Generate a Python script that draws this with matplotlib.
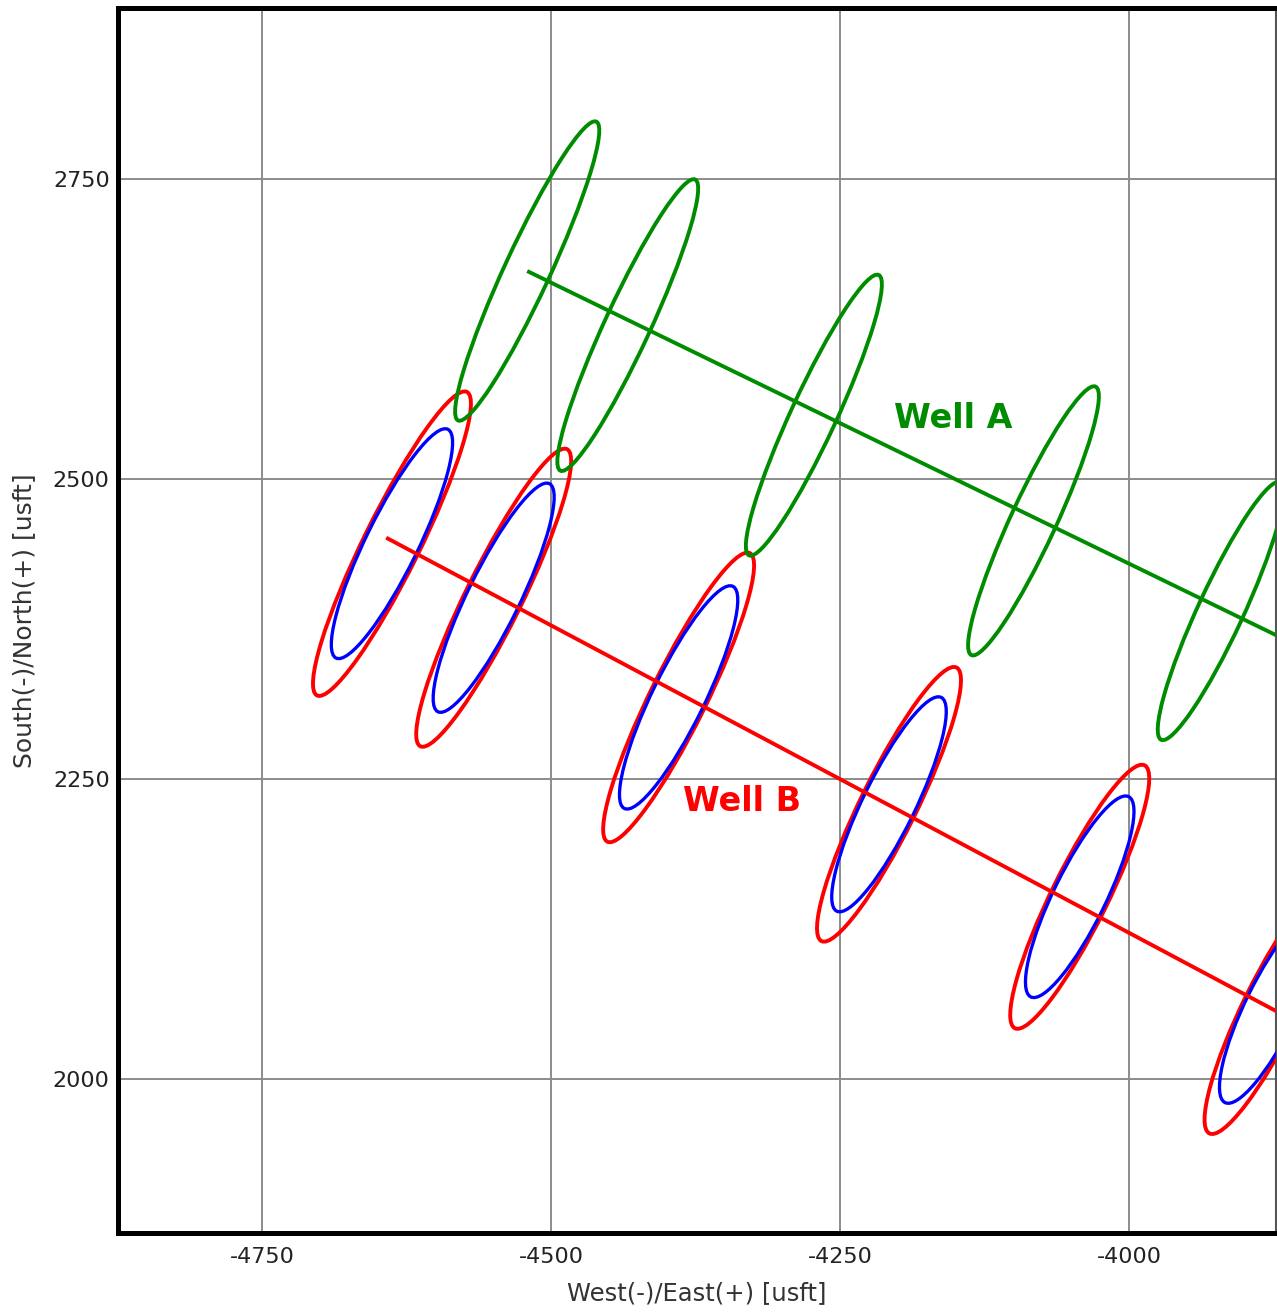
import matplotlib
matplotlib.use("Agg")
import matplotlib.pyplot as plt
from matplotlib.patches import Ellipse

# ---- data ----
# Well A (reference well) path and error-ellipse stations
well_a_path_e = [-4521, -3850]
well_a_path_n = [2673, 2359]
well_a_st_e = [-4521, -4434, -4273, -4083, -3921]
well_a_st_n = [2673, 2628, 2553, 2465, 2390]
well_a_semi_major = [138, 134.5, 129.5, 124, 119]
well_a_semi_minor = [19.5, 19.5, 19.5, 19.5, 19.5]
well_a_angle = [64.3, 64.3, 64.3, 64.3, 64.3]

# Well B (offset well) path and error-ellipse stations
well_b_path_e = [-4643, -3850]
well_b_path_n = [2451, 2045]
well_b_st_e = [-4638, -4550, -4390, -4208, -4043, -3877]
well_b_st_n = [2446, 2401, 2318, 2229, 2152, 2060]
well_b_outer_major = [142, 139, 135, 128, 123, 118]
well_b_outer_minor = [24, 24, 24, 24, 24, 24]
well_b_outer_angle = [62.8, 62.8, 62.8, 62.8, 62.8, 62.8]
well_b_inner_major = [106.8, 106.5, 103.7, 99.8, 93.5, 89]
well_b_inner_minor = [22.5, 22.5, 22.5, 22.5, 22.5, 22.5]
well_b_inner_angle = [63, 63, 63, 63, 63, 63]

x_ticks = [-4750, -4500, -4250, -4000]
y_ticks = [2000, 2250, 2500, 2750]
x_label = "West(-)/East(+) [usft]"
y_label = "South(-)/North(+) [usft]"
label_a = "Well A"
label_a_pos = (-4152, 2550)
label_b = "Well B"
label_b_pos = (-4335, 2231)

GREEN = "#008c00"
RED = "#ff0000"
BLUE = "#0000ff"
LW = 2.8

fig = plt.figure(figsize=(12.77, 13.14), dpi=100)
ax = fig.add_axes([0.0924, 0.0616, 0.907, 0.9323])

ax.set_xlim(-4875, -3873)
ax.set_ylim(1872, 2892)

# red outer ellipses
for e, n, a, b, ang in zip(well_b_st_e, well_b_st_n, well_b_outer_major,
                           well_b_outer_minor, well_b_outer_angle):
    ax.add_patch(Ellipse((e, n), 2 * a, 2 * b, angle=ang, fill=False,
                         edgecolor=RED, lw=LW, zorder=3))
# blue inner ellipses
for e, n, a, b, ang in zip(well_b_st_e, well_b_st_n, well_b_inner_major,
                           well_b_inner_minor, well_b_inner_angle):
    ax.add_patch(Ellipse((e, n), 2 * a, 2 * b, angle=ang, fill=False,
                         edgecolor=BLUE, lw=LW * 0.85, zorder=4))
ax.plot(well_b_path_e, well_b_path_n, color=RED, lw=LW, zorder=5,
        solid_capstyle="butt")

# green ellipses
for e, n, a, b, ang in zip(well_a_st_e, well_a_st_n, well_a_semi_major,
                           well_a_semi_minor, well_a_angle):
    ax.add_patch(Ellipse((e, n), 2 * a, 2 * b, angle=ang, fill=False,
                         edgecolor=GREEN, lw=LW, zorder=6))
ax.plot(well_a_path_e, well_a_path_n, color=GREEN, lw=LW, zorder=7,
        solid_capstyle="butt")

ax.text(*label_a_pos, label_a, color=GREEN, fontsize=24, fontweight="bold",
        ha="center", va="center", zorder=8)
ax.text(*label_b_pos, label_b, color=RED, fontsize=24, fontweight="bold",
        ha="center", va="center", zorder=8)

ax.set_xticks(x_ticks)
ax.set_yticks(y_ticks)
ax.set_xticklabels([str(v) for v in x_ticks])
ax.set_yticklabels([str(v) for v in y_ticks])
ax.tick_params(axis="both", length=0, labelsize=16, labelcolor="#222222")
ax.tick_params(axis="x", pad=10)
ax.tick_params(axis="y", pad=6)
ax.grid(True, color="#8c8c8c", lw=1.4, zorder=1)
ax.set_axisbelow(True)

for side in ["left", "top", "bottom"]:
    ax.spines[side].set_linewidth(3.6)
    ax.spines[side].set_color("black")
ax.spines["right"].set_linewidth(1.5)
ax.spines["right"].set_color("#555555")

ax.set_xlabel(x_label, fontsize=17.5, color="#333333", labelpad=10)
ax.set_ylabel(y_label, fontsize=18, color="#333333", labelpad=12)

fig.savefig("out.png", dpi=100)
